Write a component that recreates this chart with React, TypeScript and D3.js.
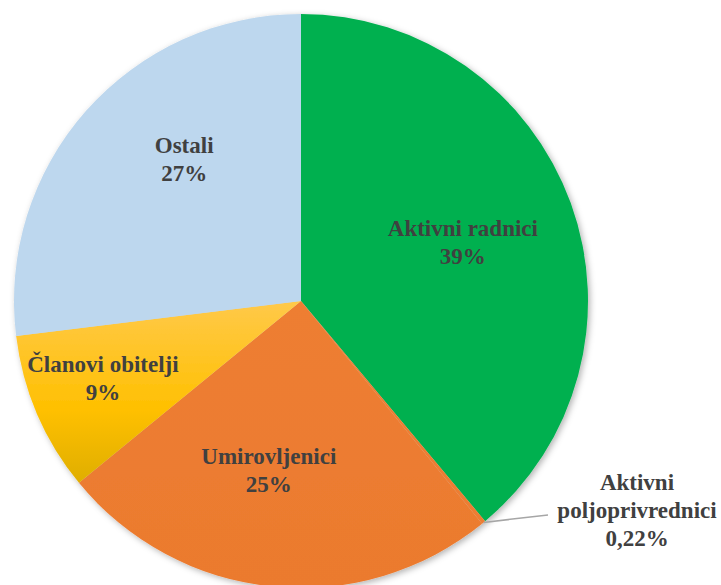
import React from 'react';
import * as d3 from 'd3';

const categories = ['Aktivni radnici', 'Aktivni poljoprivrednici', 'Umirovljenici', 'Članovi obitelji', 'Ostali'];
const values = [39, 0.22, 25, 9, 27];
const valueLabels = ['39%', '0,22%', '25%', '9%', '27%'];

const colors = ['#00B050', '#ED7D31', 'url(#orangeGrad)', 'url(#yellowGrad)', '#BDD7EE'];
// label distance from centre as a fraction of the radius, and angle nudge (deg)
const labelPos = [
  { k: 0.6, da: 0 },
  { k: 0, da: 0 },
  { k: 0.6, da: 5 },
  { k: 0.74, da: 2 },
  { k: 0.64, da: 9 },
];

const W = 721;
const H = 585;
const cx = 301;
const cy = 301;
const R = 287;

const textStyle: React.CSSProperties = {
  fontFamily: 'Liberation Serif',
  fontWeight: 'bold',
  fontSize: 23,
  fill: '#404040',
};

export default function App() {
  const pie = d3.pie<number>().sort(null).value((d) => d);
  const arcs = pie(values);
  const arc = d3.arc<d3.PieArcDatum<number>>().innerRadius(0).outerRadius(R);

  // small-slice leader line
  const small = arcs[1];
  const smallMid = (small.startAngle + small.endAngle) / 2;
  const p0 = [cx + R * Math.sin(smallMid), cy - R * Math.cos(smallMid)];

  return (
    <svg width={W} height={H} style={{ position: 'absolute', left: 0, top: 0 }}>
      <defs>
        <linearGradient id="yellowGrad" x1="0" y1="0" x2="0" y2="1">
          <stop offset="0" stopColor="#FFC94A" />
          <stop offset="0.6" stopColor="#FFC000" />
          <stop offset="1" stopColor="#DFAE00" />
        </linearGradient>
        <linearGradient id="orangeGrad" x1="0" y1="0" x2="0" y2="1">
          <stop offset="0" stopColor="#EE7E33" />
          <stop offset="1" stopColor="#EB7A2E" />
        </linearGradient>
        <filter id="shadow" x="-10%" y="-10%" width="120%" height="120%">
          <feDropShadow dx="2" dy="2" stdDeviation="3" floodColor="#000" floodOpacity="0.3" />
        </filter>
      </defs>
      <rect width={W} height={H} fill="#fff" />
      <g transform={`translate(${cx},${cy})`} filter="url(#shadow)">
        {arcs.map((a, i) => (
          <path key={categories[i]} d={arc(a) || ''} fill={colors[i]} />
        ))}
      </g>
      <line x1={p0[0]} y1={p0[1]} x2={548} y2={515} stroke="#A6A6A6" strokeWidth={1.5} />
      {arcs.map((a, i) => {
        if (i === 1) return null;
        const mid = (a.startAngle + a.endAngle) / 2 + (labelPos[i].da * Math.PI) / 180;
        const r = labelPos[i].k * R;
        const x = cx + r * Math.sin(mid);
        const y = cy - r * Math.cos(mid);
        return (
          <text key={categories[i]} x={x} textAnchor="middle" style={textStyle}>
            <tspan x={x} y={y - 6}>{categories[i]}</tspan>
            <tspan x={x} y={y + 22}>{valueLabels[i]}</tspan>
          </text>
        );
      })}
      <text textAnchor="middle" style={textStyle}>
        <tspan x={637} y={490}>Aktivni</tspan>
        <tspan x={637} y={518}>poljoprivrednici</tspan>
        <tspan x={637} y={546}>{valueLabels[1]}</tspan>
      </text>
    </svg>
  );
}
